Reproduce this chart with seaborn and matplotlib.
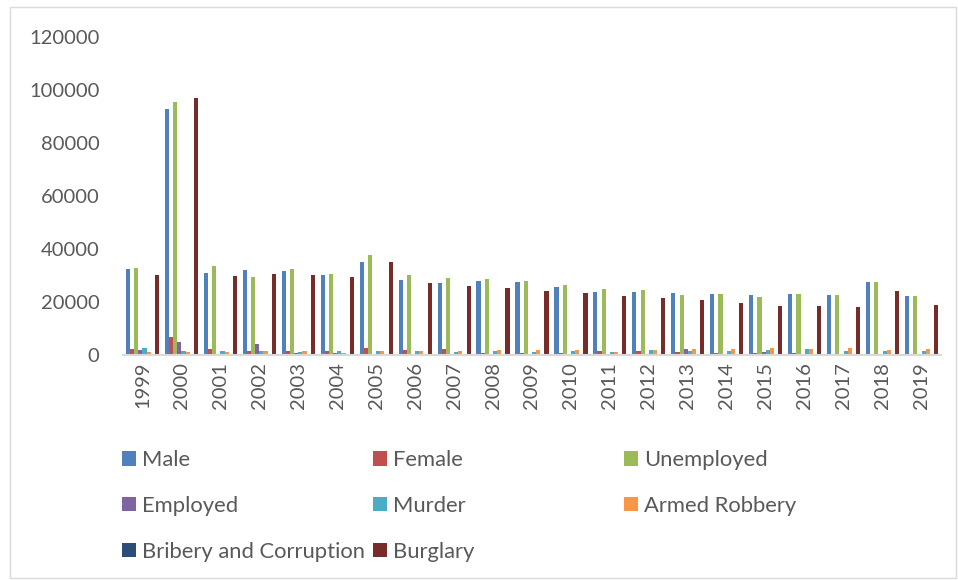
import matplotlib
matplotlib.use("Agg")
import matplotlib.pyplot as plt
from matplotlib.patches import Patch, Rectangle
import seaborn as sns
import pandas as pd

years = [str(y) for y in range(1999, 2020)]
series_names = ["Male", "Female", "Unemployed", "Employed", "Murder",
                "Armed Robbery", "Bribery and Corruption", "Burglary"]

male = [32400, 93000, 31000, 32000, 31700, 30200, 35100, 28300, 27100, 28000, 27500,
        25600, 23700, 23700, 23500, 23000, 22700, 23000, 22500, 27700, 22200]
female = [2400, 6900, 2400, 1600, 1600, 1500, 2600, 1900, 2100, 800, 800,
          700, 1400, 1400, 1300, 600, 600, 600, 200, 200, 200]
unemployed = [33000, 95500, 33400, 29500, 32500, 30600, 37800, 30200, 29200, 28800, 27800,
              26500, 25000, 24600, 22700, 23000, 22000, 23200, 22500, 27500, 22200]
employed = [1900, 4900, 0, 4300, 900, 900, 0, 0, 0, 500, 500,
            500, 0, 500, 2300, 500, 1100, 0, 0, 0, 500]
murder = [2800, 1500, 1400, 1400, 1300, 1400, 1400, 1400, 1200, 1600, 1200,
          1400, 1200, 1700, 1400, 1600, 1700, 2300, 1600, 1600, 1600]
armed_robbery = [1100, 1000, 1300, 1400, 1500, 900, 1400, 1600, 1600, 1800, 2000,
                 2000, 1300, 2000, 2400, 2300, 2600, 2300, 2600, 2000, 2100]
bribery = [500, 500, 400, 400, 500, 100, 0, 0, 0, 300, 300,
           0, 0, 0, 300, 0, 0, 0, 0, 0, 0]
burglary = [30300, 97000, 30000, 30400, 30300, 29400, 35000, 27200, 26000, 25400, 24300,
            23300, 22200, 21400, 20800, 19600, 18600, 18500, 18200, 24000, 19000]

y_ticks = [0, 20000, 40000, 60000, 80000, 100000, 120000]

colors = ["#4F81BD", "#C0504D", "#9BBB59", "#8064A2", "#4BACC6",
          "#F79646", "#2C4D75", "#772C2A"]

all_series = [male, female, unemployed, employed, murder, armed_robbery, bribery, burglary]
rows = []
for name, vals in zip(series_names, all_series):
    for yr, v in zip(years, vals):
        rows.append({"Year": yr, "Series": name, "Value": v})
df = pd.DataFrame(rows)

sns.set_theme(style="white")
plt.rcParams["font.family"] = ["Lato", "DejaVu Sans"]

fig = plt.figure(figsize=(9.58, 5.8), dpi=100)
ax = fig.add_axes([123 / 958, 1 - 355 / 580, (941 - 123) / 958, (355 - 37) / 580])

sns.barplot(data=df, x="Year", y="Value", hue="Series", order=years,
            hue_order=series_names, palette=colors, width=0.85,
            saturation=1, ax=ax, legend=False, errorbar=None, linewidth=0)

ax.set_ylim(0, 120000)
ax.set_xlim(-0.5, len(years) - 0.5)
ax.set_yticks(y_ticks)
ax.set_yticklabels([str(t) for t in y_ticks])
ax.set_xlabel("")
ax.set_ylabel("")
ax.tick_params(axis="y", length=0, pad=17, labelsize=14.5, labelcolor="#595959")
ax.tick_params(axis="x", length=0, pad=5, labelsize=14.5, labelcolor="#595959",
               labelrotation=90)
for s in ["top", "right", "left"]:
    ax.spines[s].set_visible(False)
ax.spines["bottom"].set_color("#D9D9D9")
ax.spines["bottom"].set_linewidth(1.5)

# legend, three equal-width columns
handles = {n: Patch(facecolor=c, edgecolor="none") for n, c in zip(series_names, colors)}
columns = [["Male", "Employed", "Bribery and Corruption"],
           ["Female", "Murder", "Burglary"],
           ["Unemployed", "Armed Robbery"]]
col_x = [122, 373, 624]
for names, x in zip(columns, col_x):
    fig.legend([handles[n] for n in names], names, loc="upper left",
               bbox_to_anchor=(x / 958, 1 - 450 / 580), frameon=False,
               fontsize=15.8, handlelength=0.64, handleheight=0.64,
               handletextpad=0.28, labelspacing=1.18, borderpad=0,
               borderaxespad=0, labelcolor="#595959")

fig.patches.append(Rectangle((10 / 958, 2 / 580), 946 / 958, 571 / 580,
                             transform=fig.transFigure, fill=False,
                             edgecolor="#D9D9D9", linewidth=1))

fig.savefig("out.png", dpi=100)
